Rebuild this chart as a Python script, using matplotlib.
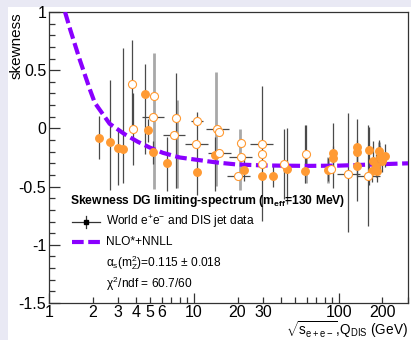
import numpy as np
import matplotlib
matplotlib.use('Agg')
import matplotlib.pyplot as plt
from matplotlib.patches import Rectangle
from matplotlib.lines import Line2D
from matplotlib.ticker import FixedLocator, FuncFormatter

plt.rcParams['font.family'] = ['Liberation Sans', 'DejaVu Sans']
plt.rcParams['mathtext.fontset'] = 'custom'
plt.rcParams['mathtext.rm'] = 'Liberation Sans'
plt.rcParams['mathtext.it'] = 'Liberation Sans'
plt.rcParams['mathtext.bf'] = 'Liberation Sans:bold'

# filled points (e+e- data)
ee_x = [2.2, 2.62, 2.99, 3.22, 4.59, 4.80, 5.19, 6.54, 10.5, 13.96, 22.1, 29.4, 35.2, 43.8,
        58.6, 83.6, 91.4, 91.4, 134, 134, 134, 162, 168, 172, 182, 181, 189, 192, 199, 207]
ee_y = [-0.086, -0.12, -0.166, -0.177, 0.293, -0.017, -0.204, -0.296, -0.376, -0.227, -0.356,
        -0.405, -0.405, -0.353, -0.362, -0.356, -0.21, -0.25, -0.16, -0.20, -0.319, -0.184,
        -0.362, -0.276, -0.362, -0.319, -0.19, -0.247, -0.276, -0.233]
ee_hi = [0.19, 0.54, 0.17, 0.87, 0.26, 0.10, 0.10, 0.22, 0.52, 0.15, 0.10, 0.77, 0.10, 0.36,
         0.39, 0.10, 0.26, 0.10, 0.24, 0.10, 0.10, 0.20, 0.10, 0.17, 0.10, 0.10, 0.09, 0.10, 0.10, 0.10]
ee_lo = [0.18, 0.41, 0.32, 0.29, 0.51, 0.10, 0.10, 0.24, 0.20, 0.31, 0.10, 0.39, 0.10, 0.30,
         0.11, 0.10, 0.30, 0.10, 0.46, 0.10, 0.10, 0.30, 0.10, 0.10, 0.10, 0.10, 0.20, 0.10, 0.10, 0.10]

# open points (DIS data)
dis_x = [3.73, 3.81, 5.30, 5.24, 7.48, 7.32, 10.5, 10.4, 14.5, 14.9, 14.9, 21.1, 21.1, 20.3,
         29.3, 29.4, 29.4, 42.0, 59.5, 88.0, 116, 159]
dis_y = [0.379, -0.006, 0.276, 0.097, 0.092, -0.055, 0.066, -0.138, -0.003, -0.032, -0.213,
         -0.123, -0.247, -0.41, -0.138, -0.218, -0.304, -0.304, -0.224, -0.347, -0.39, -0.405]
dis_hi = [0.38, 0.31, 0.0, 0.0, 0.38, 0.0, 0.0, 0.0, 0.0, 0.0, 0.0, 0.0, 0.0, 0.0,
          0.0, 0.0, 0.0, 0.30, 0.25, 0.0, 0.52, 0.43]
dis_lo = [0.38, 0.31, 0.0, 0.0, 0.60, 0.0, 0.0, 0.0, 0.0, 0.0, 0.0, 0.0, 0.0, 0.0,
          0.0, 0.0, 0.0, 0.30, 0.10, 0.0, 0.50, 0.43]
dis_xw = [1.05, 1.0, 1.0, 1.19, 1.0, 1.19, 1.10, 1.20, 1.20, 1.0, 1.20, 1.0, 1.20, 1.20,
          1.20, 1.0, 1.0, 1.0, 1.0, 1.0, 1.20, 1.20]

# light grey (systematic) bars
sys_x = [5.30, 7.6, 14.3, 20.8, 59.5, 83.6, 190]
sys_y = [0.276, 0.092, -0.003, -0.123, -0.362, -0.356, -0.247]
sys_hi = [0.37, 0.15, 0.49, 0.12, 0.11, 0.11, 0.13]
sys_lo = [0.80, 0.60, 0.49, 0.41, 0.11, 0.11, 0.13]

# NLO*+NNLL curve
fit_x = [1.29, 1.40, 1.63, 1.92, 2.07, 2.62, 3.33, 4.1, 4.97, 6.11, 8.0, 10.5, 14.4, 19.8,
         29.9, 40, 60, 100, 170, 300]
fit_y = [1.0, 0.85, 0.59, 0.33, 0.22, 0.04, -0.05, -0.115, -0.165, -0.21, -0.25, -0.27,
         -0.293, -0.31, -0.318, -0.32, -0.322, -0.32, -0.31, -0.30]

W, H = 411, 340
fig = plt.figure(figsize=(W / 100, H / 100), dpi=100, facecolor='#e9e9f4')
fig.patches.append(Rectangle((8 / W, 0), 1, 1 - 7 / H, transform=fig.transFigure,
                             facecolor='white', edgecolor='none', zorder=-5))

def fx(px):
    return px / W

def fy(py):
    return 1 - py / H

ax = fig.add_axes([fx(49), fy(303), fx(408) - fx(49), fy(12) - fy(303)])
ax.set_facecolor('white')
ax.set_xscale('log')
ax.set_xlim(1, 300)
ax.set_ylim(-1.5, 1)

orange = '#ff9a33'
dark = '#4a4a4a'
purple = '#8a00ff'

# error bars
ax.errorbar(sys_x, sys_y, yerr=[sys_lo, sys_hi], fmt='none', ecolor='#a8a8a8', elinewidth=2.0,
            capsize=0, zorder=1)
ax.errorbar(ee_x, ee_y, yerr=[ee_lo, ee_hi], fmt='none', ecolor=dark, elinewidth=0.9,
            capsize=0, zorder=2)
dx = np.array(dis_x)
xw = np.array(dis_xw)
ax.errorbar(dis_x, dis_y, yerr=[dis_lo, dis_hi], xerr=[dx - dx / xw, dx * xw - dx], fmt='none',
            ecolor=dark, elinewidth=0.9, capsize=0, zorder=2)

ax.plot(fit_x, fit_y, color=purple, lw=3, ls=(0, (2.8, 1.1)), zorder=3)

ax.plot(ee_x, ee_y, 'o', color=orange, ms=5.4, mec=orange, zorder=4)
ax.plot(dis_x, dis_y, 'o', mfc='white', mec=orange, mew=0.8, ms=5.8, zorder=4)

# axes style (ROOT like)
for s in ax.spines.values():
    s.set_color('#333333')
    s.set_linewidth(0.9)
ax.xaxis.set_major_locator(FixedLocator([1, 10, 100]))
ax.xaxis.set_minor_locator(FixedLocator([2, 3, 4, 5, 6, 7, 8, 9, 20, 30, 40, 50, 60, 70, 80, 90, 200, 300]))
ax.xaxis.set_major_formatter(FuncFormatter(lambda v, p: '%g' % v))
minor_lab = [2, 3, 4, 5, 6, 20, 30, 200]
ax.xaxis.set_minor_formatter(FuncFormatter(lambda v, p: '%g' % v if round(v) in minor_lab else ''))
ax.yaxis.set_major_locator(FixedLocator([-1.5, -1, -0.5, 0, 0.5, 1]))
ax.yaxis.set_minor_locator(FixedLocator(np.arange(-1.5, 1.01, 0.1)))
ax.yaxis.set_major_formatter(FuncFormatter(lambda v, p: '%g' % v if v != 0 else '0'))
ax.tick_params(axis='both', which='both', direction='in', colors='#333333', labelcolor='black',
               labelsize=11.5, top=False, right=False)
ax.tick_params(axis='y', which='major', length=8, width=0.9, pad=2)
ax.tick_params(axis='y', which='minor', length=4, width=0.9)
ax.tick_params(axis='x', which='major', length=7, width=0.9, pad=1.5)
ax.tick_params(axis='x', which='minor', length=4, width=0.9, pad=1.5)

fig.text(fx(10), fy(12), 'skewness', rotation=90, ha='left', va='top', fontsize=11)
fig.text(fx(408), fy(334.5), r'$\sqrt{s_{e+e-}}$,Q$_{\rm DIS}$ (GeV)', ha='right',
         va='baseline', fontsize=9.8)

# legend block
fig.text(fx(70), fy(201), r'Skewness DG limiting-spectrum (m$_{\mathbf{eff}}$=130 MeV)',
         fontsize=8.7, fontweight='bold', va='center', ha='left')
fig.add_artist(Line2D([fx(72), fx(100)], [fy(222), fy(222)], color='#333333', lw=0.9))
fig.add_artist(Line2D([fx(86), fx(86)], [fy(216), fy(228)], color='#333333', lw=0.9))
fig.add_artist(Line2D([fx(86)], [fy(222)], marker='s', ms=3.2, color='black'))
fig.text(fx(106), fy(222), r'World e$^{+}$e$^{-}$ and DIS jet data', fontsize=8.6, va='center')
fig.add_artist(Line2D([fx(72), fx(100)], [fy(242), fy(242)], color=purple, lw=3,
                      ls=(0, (2.8, 1.1))))
fig.text(fx(106), fy(242), 'NLO*+NNLL', fontsize=8.6, va='center')
fig.text(fx(106), fy(263), r'$\alpha_{\rm s}$(m$_{\rm Z}^{2}$)=0.115 $\pm$ 0.018', fontsize=8.6,
         va='center')
fig.text(fx(106), fy(284), r'$\chi^{2}$/ndf = 60.7/60', fontsize=8.6, va='center')

fig.savefig('out.png', dpi=100, facecolor=fig.get_facecolor())
